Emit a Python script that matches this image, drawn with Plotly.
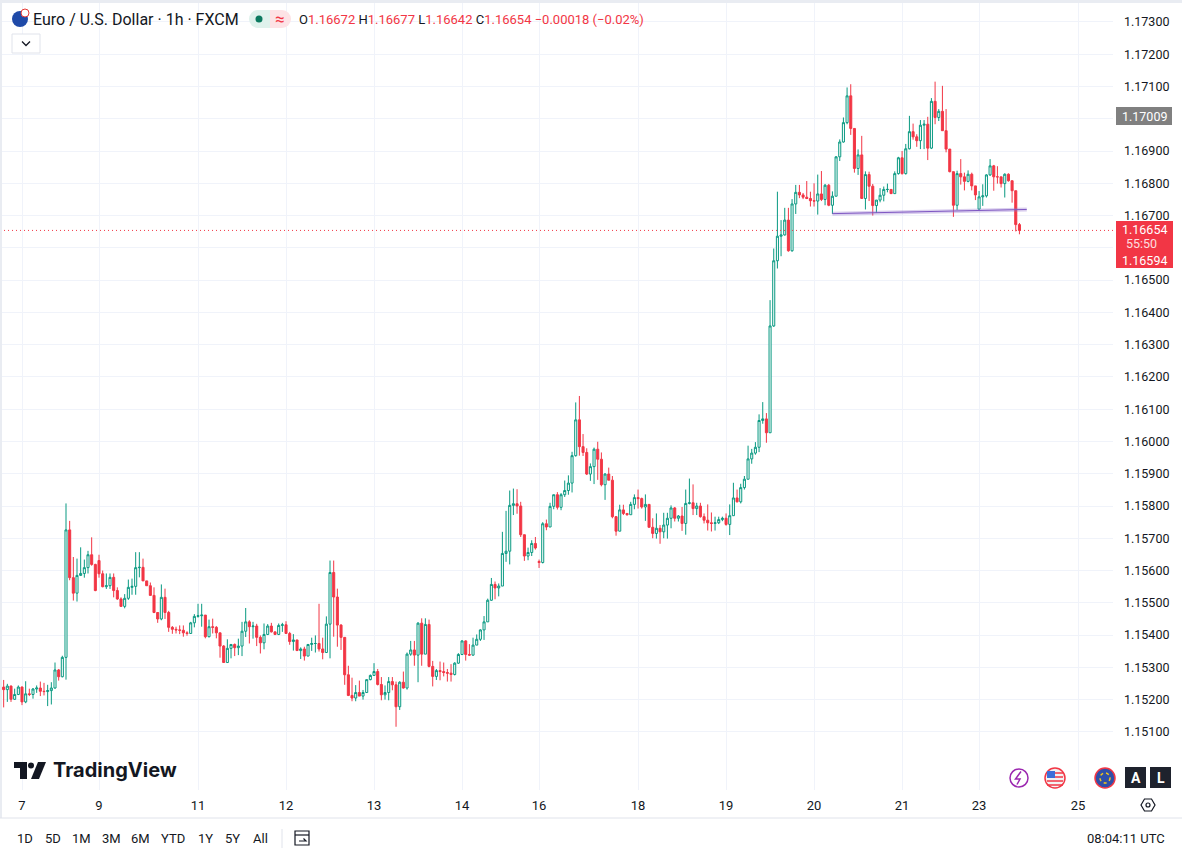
import pandas as pd
import plotly.graph_objects as go

# EUR/USD 1h candles (Thu 6 19:00 UTC -> Mon 24 08:00 UTC)
opens = [
    1.15239, 1.15231, 1.15242, 1.15201, 1.15216, 1.15239, 1.15193, 1.15218, 1.15216, 1.15233,
    1.15236, 1.15226, 1.15225, 1.15228, 1.15236, 1.15292, 1.15271, 1.15331, 1.15726, 1.15578,
    1.15530, 1.15585, 1.15591, 1.15609, 1.15649, 1.15619, 1.15631, 1.15590, 1.15550, 1.15553,
    1.15579, 1.15538, 1.15512, 1.15489, 1.15514, 1.15548, 1.15551, 1.15609, 1.15610, 1.15568,
    1.15553, 1.15523, 1.15470, 1.15450, 1.15517, 1.15470, 1.15424, 1.15418, 1.15416, 1.15415,
    1.15407, 1.15405, 1.15438, 1.15458, 1.15460, 1.15462, 1.15395, 1.15426, 1.15424, 1.15407,
    1.15366, 1.15315, 1.15359, 1.15371, 1.15361, 1.15366, 1.15412, 1.15441, 1.15426, 1.15428,
    1.15393, 1.15376, 1.15402, 1.15428, 1.15410, 1.15402, 1.15430, 1.15432, 1.15405, 1.15380,
    1.15385, 1.15352, 1.15357, 1.15335, 1.15371, 1.15374, 1.15374, 1.15357, 1.15346, 1.15434,
    1.15594, 1.15518, 1.15431, 1.15393, 1.15277, 1.15213, 1.15205, 1.15222, 1.15211, 1.15222,
    1.15262, 1.15275, 1.15287, 1.15247, 1.15215, 1.15222, 1.15256, 1.15246, 1.15178, 1.15254,
    1.15236, 1.15341, 1.15354, 1.15338, 1.15437, 1.15341, 1.15433, 1.15303, 1.15272, 1.15290,
    1.15287, 1.15284, 1.15282, 1.15278, 1.15313, 1.15340, 1.15382, 1.15340, 1.15338, 1.15369,
    1.15387, 1.15416, 1.15441, 1.15508, 1.15557, 1.15546, 1.15552, 1.15653, 1.15660, 1.15802,
    1.15807, 1.15800, 1.15711, 1.15645, 1.15656, 1.15684, 1.15628, 1.15625, 1.15745, 1.15735,
    1.15799, 1.15835, 1.15796, 1.15835, 1.15848, 1.15871, 1.15956, 1.16067, 1.15984, 1.15966,
    1.15899, 1.15922, 1.15976, 1.15945, 1.15866, 1.15899, 1.15880, 1.15767, 1.15722, 1.15788,
    1.15777, 1.15773, 1.15805, 1.15826, 1.15823, 1.15797, 1.15805, 1.15734, 1.15715, 1.15731,
    1.15720, 1.15741, 1.15762, 1.15794, 1.15762, 1.15769, 1.15746, 1.15808, 1.15810, 1.15792,
    1.15800, 1.15767, 1.15756, 1.15748, 1.15746, 1.15748, 1.15758, 1.15762, 1.15743, 1.15770,
    1.15825, 1.15813, 1.15857, 1.15883, 1.15946, 1.15964, 1.15982, 1.16065, 1.16070, 1.16027,
    1.16358, 1.16560, 1.16636, 1.16640, 1.16686, 1.16591, 1.16736, 1.16772, 1.16764, 1.16757,
    1.16753, 1.16746, 1.16745, 1.16767, 1.16750, 1.16794, 1.16732, 1.16760, 1.16882, 1.16928,
    1.16988, 1.17071, 1.16970, 1.16846, 1.16888, 1.16753, 1.16827, 1.16791, 1.16731, 1.16748,
    1.16763, 1.16781, 1.16781, 1.16768, 1.16830, 1.16879, 1.16830, 1.16907, 1.16960, 1.16944,
    1.16932, 1.16980, 1.16983, 1.16909, 1.17054, 1.17004, 1.17023, 1.16963, 1.16906, 1.16836,
    1.16732, 1.16830, 1.16820, 1.16806, 1.16828, 1.16792, 1.16720, 1.16758, 1.16761, 1.16826,
    1.16854, 1.16820, 1.16820, 1.16799, 1.16828, 1.16808, 1.16777, 1.16672,
]
highs = [
    1.15261, 1.15249, 1.15244, 1.15234, 1.15244, 1.15241, 1.15257, 1.15234, 1.15236, 1.15244,
    1.15256, 1.15252, 1.15246, 1.15254, 1.15315, 1.15295, 1.15336, 1.15808, 1.15754, 1.15642,
    1.15637, 1.15672, 1.15634, 1.15661, 1.15703, 1.15621, 1.15649, 1.15600, 1.15591, 1.15591,
    1.15591, 1.15548, 1.15517, 1.15527, 1.15572, 1.15575, 1.15657, 1.15657, 1.15637, 1.15568,
    1.15563, 1.15548, 1.15470, 1.15557, 1.15544, 1.15475, 1.15428, 1.15426, 1.15430, 1.15430,
    1.15412, 1.15441, 1.15465, 1.15497, 1.15497, 1.15462, 1.15448, 1.15451, 1.15428, 1.15407,
    1.15369, 1.15387, 1.15371, 1.15374, 1.15389, 1.15441, 1.15484, 1.15446, 1.15441, 1.15435,
    1.15399, 1.15436, 1.15434, 1.15438, 1.15410, 1.15436, 1.15438, 1.15443, 1.15410, 1.15403,
    1.15385, 1.15362, 1.15364, 1.15372, 1.15392, 1.15399, 1.15497, 1.15392, 1.15458, 1.15631,
    1.15631, 1.15544, 1.15434, 1.15393, 1.15305, 1.15268, 1.15245, 1.15259, 1.15230, 1.15262,
    1.15278, 1.15313, 1.15295, 1.15270, 1.15244, 1.15270, 1.15270, 1.15256, 1.15257, 1.15287,
    1.15346, 1.15382, 1.15382, 1.15440, 1.15452, 1.15452, 1.15448, 1.15320, 1.15295, 1.15318,
    1.15315, 1.15295, 1.15310, 1.15316, 1.15344, 1.15384, 1.15384, 1.15372, 1.15392, 1.15402,
    1.15418, 1.15459, 1.15513, 1.15577, 1.15566, 1.15560, 1.15720, 1.15785, 1.15848, 1.15854,
    1.15852, 1.15813, 1.15711, 1.15671, 1.15694, 1.15704, 1.15634, 1.15750, 1.15758, 1.15810,
    1.15835, 1.15843, 1.15840, 1.15879, 1.15895, 1.15968, 1.16121, 1.16141, 1.16023, 1.15979,
    1.15932, 1.15981, 1.15999, 1.15966, 1.15902, 1.15919, 1.15893, 1.15769, 1.15804, 1.15804,
    1.15777, 1.15813, 1.15836, 1.15851, 1.15826, 1.15836, 1.15805, 1.15762, 1.15777, 1.15741,
    1.15779, 1.15779, 1.15802, 1.15797, 1.15772, 1.15797, 1.15851, 1.15885, 1.15867, 1.15810,
    1.15810, 1.15777, 1.15805, 1.15780, 1.15767, 1.15767, 1.15767, 1.15777, 1.15805, 1.15872,
    1.15851, 1.15869, 1.15893, 1.15987, 1.15977, 1.15998, 1.16084, 1.16122, 1.16088, 1.16438,
    1.16598, 1.16774, 1.16686, 1.16724, 1.16724, 1.16751, 1.16795, 1.16795, 1.16770, 1.16807,
    1.16774, 1.16800, 1.16827, 1.16838, 1.16798, 1.16798, 1.16775, 1.16884, 1.16936, 1.17004,
    1.17097, 1.17107, 1.16970, 1.16905, 1.16947, 1.16837, 1.16836, 1.16798, 1.16748, 1.16785,
    1.16790, 1.16799, 1.16781, 1.16837, 1.16882, 1.16900, 1.16922, 1.17009, 1.16985, 1.16952,
    1.16996, 1.16996, 1.17006, 1.17064, 1.17115, 1.17030, 1.17102, 1.17030, 1.16906, 1.16836,
    1.16839, 1.16875, 1.16833, 1.16840, 1.16833, 1.16792, 1.16776, 1.16797, 1.16828, 1.16875,
    1.16857, 1.16853, 1.16820, 1.16831, 1.16831, 1.16808, 1.16777, 1.16677,
]
lows = [
    1.15176, 1.15193, 1.15193, 1.15199, 1.15214, 1.15183, 1.15189, 1.15211, 1.15203, 1.15221,
    1.15211, 1.15213, 1.15180, 1.15185, 1.15234, 1.15259, 1.15269, 1.15262, 1.15570, 1.15507,
    1.15504, 1.15583, 1.15578, 1.15591, 1.15615, 1.15536, 1.15578, 1.15548, 1.15543, 1.15543,
    1.15517, 1.15509, 1.15489, 1.15483, 1.15509, 1.15525, 1.15525, 1.15579, 1.15568, 1.15553,
    1.15523, 1.15468, 1.15438, 1.15446, 1.15450, 1.15410, 1.15404, 1.15405, 1.15403, 1.15395,
    1.15398, 1.15405, 1.15424, 1.15454, 1.15426, 1.15390, 1.15393, 1.15405, 1.15390, 1.15330,
    1.15315, 1.15315, 1.15328, 1.15335, 1.15338, 1.15335, 1.15394, 1.15374, 1.15389, 1.15366,
    1.15343, 1.15356, 1.15400, 1.15408, 1.15400, 1.15400, 1.15410, 1.15405, 1.15370, 1.15352,
    1.15352, 1.15326, 1.15321, 1.15335, 1.15351, 1.15346, 1.15349, 1.15325, 1.15346, 1.15328,
    1.15395, 1.15364, 1.15354, 1.15246, 1.15211, 1.15195, 1.15195, 1.15211, 1.15200, 1.15222,
    1.15260, 1.15275, 1.15244, 1.15198, 1.15200, 1.15198, 1.15229, 1.15116, 1.15168, 1.15234,
    1.15231, 1.15336, 1.15305, 1.15254, 1.15305, 1.15341, 1.15300, 1.15241, 1.15261, 1.15260,
    1.15272, 1.15256, 1.15256, 1.15275, 1.15311, 1.15338, 1.15321, 1.15336, 1.15336, 1.15369,
    1.15382, 1.15385, 1.15441, 1.15506, 1.15511, 1.15520, 1.15552, 1.15627, 1.15619, 1.15772,
    1.15776, 1.15704, 1.15630, 1.15632, 1.15645, 1.15665, 1.15608, 1.15622, 1.15725, 1.15735,
    1.15790, 1.15789, 1.15787, 1.15828, 1.15835, 1.15842, 1.15953, 1.15956, 1.15955, 1.15896,
    1.15878, 1.15868, 1.15881, 1.15861, 1.15819, 1.15880, 1.15762, 1.15708, 1.15722, 1.15772,
    1.15770, 1.15773, 1.15790, 1.15792, 1.15792, 1.15754, 1.15734, 1.15700, 1.15699, 1.15683,
    1.15700, 1.15699, 1.15731, 1.15752, 1.15752, 1.15723, 1.15711, 1.15805, 1.15772, 1.15772,
    1.15764, 1.15746, 1.15724, 1.15721, 1.15724, 1.15744, 1.15753, 1.15739, 1.15710, 1.15770,
    1.15811, 1.15808, 1.15851, 1.15883, 1.15931, 1.15959, 1.15967, 1.16055, 1.15996, 1.16027,
    1.16355, 1.16536, 1.16574, 1.16638, 1.16588, 1.16588, 1.16705, 1.16754, 1.16751, 1.16751,
    1.16728, 1.16728, 1.16703, 1.16745, 1.16732, 1.16729, 1.16705, 1.16760, 1.16869, 1.16926,
    1.16983, 1.16950, 1.16833, 1.16826, 1.16753, 1.16719, 1.16745, 1.16700, 1.16708, 1.16741,
    1.16744, 1.16772, 1.16767, 1.16768, 1.16827, 1.16827, 1.16827, 1.16905, 1.16935, 1.16913,
    1.16906, 1.16906, 1.16872, 1.16906, 1.16983, 1.16993, 1.16963, 1.16896, 1.16834, 1.16696,
    1.16717, 1.16796, 1.16778, 1.16803, 1.16778, 1.16748, 1.16718, 1.16730, 1.16756, 1.16823,
    1.16777, 1.16799, 1.16787, 1.16756, 1.16805, 1.16740, 1.16651, 1.16642,
]
closes = [
    1.15231, 1.15242, 1.15201, 1.15216, 1.15239, 1.15193, 1.15218, 1.15216, 1.15233, 1.15236,
    1.15226, 1.15225, 1.15228, 1.15236, 1.15292, 1.15271, 1.15331, 1.15726, 1.15578, 1.15530,
    1.15585, 1.15591, 1.15609, 1.15649, 1.15619, 1.15538, 1.15590, 1.15550, 1.15553, 1.15579,
    1.15538, 1.15512, 1.15489, 1.15514, 1.15548, 1.15551, 1.15609, 1.15610, 1.15568, 1.15553,
    1.15523, 1.15470, 1.15450, 1.15517, 1.15470, 1.15424, 1.15418, 1.15416, 1.15415, 1.15407,
    1.15405, 1.15438, 1.15458, 1.15460, 1.15462, 1.15395, 1.15426, 1.15424, 1.15407, 1.15366,
    1.15315, 1.15359, 1.15371, 1.15361, 1.15366, 1.15412, 1.15441, 1.15426, 1.15428, 1.15393,
    1.15376, 1.15402, 1.15428, 1.15410, 1.15402, 1.15430, 1.15432, 1.15405, 1.15380, 1.15385,
    1.15352, 1.15357, 1.15335, 1.15371, 1.15374, 1.15374, 1.15357, 1.15346, 1.15434, 1.15594,
    1.15518, 1.15431, 1.15393, 1.15277, 1.15213, 1.15205, 1.15222, 1.15211, 1.15222, 1.15262,
    1.15275, 1.15287, 1.15247, 1.15215, 1.15222, 1.15256, 1.15246, 1.15178, 1.15254, 1.15236,
    1.15341, 1.15354, 1.15338, 1.15437, 1.15341, 1.15433, 1.15303, 1.15272, 1.15290, 1.15287,
    1.15284, 1.15282, 1.15278, 1.15313, 1.15340, 1.15382, 1.15340, 1.15338, 1.15369, 1.15387,
    1.15416, 1.15441, 1.15508, 1.15557, 1.15546, 1.15552, 1.15653, 1.15660, 1.15802, 1.15807,
    1.15800, 1.15711, 1.15645, 1.15656, 1.15684, 1.15670, 1.15625, 1.15745, 1.15735, 1.15799,
    1.15835, 1.15796, 1.15835, 1.15848, 1.15871, 1.15956, 1.16067, 1.15984, 1.15966, 1.15899,
    1.15922, 1.15976, 1.15945, 1.15866, 1.15899, 1.15880, 1.15767, 1.15722, 1.15788, 1.15777,
    1.15773, 1.15805, 1.15826, 1.15823, 1.15797, 1.15805, 1.15734, 1.15715, 1.15731, 1.15720,
    1.15741, 1.15762, 1.15794, 1.15762, 1.15769, 1.15746, 1.15808, 1.15810, 1.15792, 1.15800,
    1.15767, 1.15756, 1.15748, 1.15746, 1.15748, 1.15758, 1.15762, 1.15743, 1.15770, 1.15825,
    1.15813, 1.15857, 1.15883, 1.15946, 1.15964, 1.15982, 1.16065, 1.16070, 1.16027, 1.16358,
    1.16560, 1.16636, 1.16640, 1.16686, 1.16591, 1.16736, 1.16772, 1.16764, 1.16757, 1.16753,
    1.16746, 1.16745, 1.16767, 1.16750, 1.16794, 1.16732, 1.16760, 1.16882, 1.16928, 1.16988,
    1.17071, 1.16970, 1.16846, 1.16888, 1.16753, 1.16827, 1.16791, 1.16731, 1.16748, 1.16763,
    1.16781, 1.16781, 1.16768, 1.16830, 1.16879, 1.16830, 1.16907, 1.16960, 1.16944, 1.16932,
    1.16980, 1.16983, 1.16909, 1.17054, 1.17004, 1.17023, 1.16963, 1.16906, 1.16836, 1.16732,
    1.16830, 1.16820, 1.16806, 1.16828, 1.16792, 1.16764, 1.16758, 1.16761, 1.16826, 1.16854,
    1.16820, 1.16820, 1.16799, 1.16828, 1.16808, 1.16777, 1.16672, 1.16654,
]

last_bar = "2025-11-24 08:00"
tick_times = ["2025-11-07 00:00", "2025-11-09 21:00", "2025-11-11 00:00", "2025-11-12 00:00",
              "2025-11-13 00:00", "2025-11-14 00:00", "2025-11-16 21:00", "2025-11-18 00:00",
              "2025-11-19 00:00", "2025-11-20 00:00", "2025-11-21 00:00", "2025-11-23 21:00",
              "2025-11-25 00:00"]
tick_text = ["7", "9", "11", "12", "13", "14", "16", "18", "19", "20", "21", "23", "25"]
price_ticks = [1.173, 1.172, 1.171, 1.170, 1.169, 1.168, 1.167, 1.166, 1.165, 1.164, 1.163, 1.162,
               1.161, 1.160, 1.159, 1.158, 1.157, 1.156, 1.155, 1.154, 1.153, 1.152, 1.151]
hidden_price_ticks = [1.170, 1.166]  # covered by the price-scale labels
trend_times = ["2025-11-20 05:00", "2025-11-24 10:00"]
trend_prices = [1.16706, 1.16719]
flag_price = 1.17009
bid_price = 1.16594

# forex trading hours (closed Fri 21:00 -> Sun 21:00 UTC), one slot per hour
hours = pd.date_range("2025-11-06 18:00", "2025-11-25 12:00", freq="h")
closed = ((hours.dayofweek == 4) & (hours.hour >= 21)) | (hours.dayofweek == 5) | \
         ((hours.dayofweek == 6) & (hours.hour < 21))
slots = hours[~closed]
bar_times = slots[slots <= pd.Timestamp(last_bar)][-len(closes):]
x_bars = slots.get_indexer(bar_times)
x_ticks = slots.get_indexer(pd.to_datetime(tick_times))
x_trend = slots.get_indexer(pd.to_datetime(trend_times))
price_text = ["" if p in hidden_price_ticks else f"{p:.5f}" for p in price_ticks]

GREEN = "#089981"
RED = "#F23645"
INK = "#131722"
GRID = "#f0f3fa"
PW, PH = 1113, 790  # plot area in pixels


def fx(px):
    return px / PW


def fy(py):
    return 1 - py / PH


fig = go.Figure()
fig.add_trace(go.Candlestick(
    x=x_bars, open=opens, high=highs, low=lows, close=closes,
    increasing=dict(line=dict(color=GREEN, width=1), fillcolor="#ffffff"),
    decreasing=dict(line=dict(color=RED, width=1), fillcolor=RED),
    whiskerwidth=0, hoverinfo="skip",
))
fig.add_trace(go.Scatter(x=x_trend, y=trend_prices, mode="lines",
                         line=dict(color="rgba(149,117,205,0.35)", width=4), hoverinfo="skip"))
fig.add_trace(go.Scatter(x=x_trend, y=trend_prices, mode="lines",
                         line=dict(color="#7e57c2", width=1), hoverinfo="skip"))

shapes = []
annotations = []


def rect(x0, y0, x1, y1, fill, line=None, lw=0):
    shapes.append(dict(type="rect", xref="paper", yref="paper", x0=fx(x0), x1=fx(x1),
                       y0=fy(y1), y1=fy(y0), fillcolor=fill, layer="above",
                       line=dict(color=line or fill, width=lw)))


def circle(cx, cy, r, fill, line=None, lw=0, dash="solid"):
    shapes.append(dict(type="circle", xref="paper", yref="paper", x0=fx(cx - r), x1=fx(cx + r),
                       y0=fy(cy + r), y1=fy(cy - r), fillcolor=fill, layer="above",
                       line=dict(color=line or fill, width=lw, dash=dash)))


def poly(points, fill=None, line=None, lw=1, close=True):
    d = "M " + " L ".join(f"{fx(a):.5f},{fy(b):.5f}" for a, b in points) + (" Z" if close else "")
    shapes.append(dict(type="path", xref="paper", yref="paper", path=d, layer="above",
                       fillcolor=fill or "rgba(0,0,0,0)", line=dict(color=line or "rgba(0,0,0,0)", width=lw)))


def text(px, py, s, size=13, color=INK, anchor="left", family="Roboto, sans-serif"):
    annotations.append(dict(xref="paper", yref="paper", x=fx(px), y=fy(py), text=s,
                            showarrow=False, xanchor=anchor, yanchor="middle",
                            font=dict(size=size, color=color, family=family)))


# current price dotted line
shapes.append(dict(type="line", xref="paper", yref="y", x0=0, x1=1, y0=closes[-1], y1=closes[-1],
                   line=dict(color=RED, width=1, dash="1px,3px")))

# frame edges
rect(0, 0, 1182, 3, "#e9ecf2")
rect(0, 0, 2, 818, "#e9ecf2")
shapes.append(dict(type="line", xref="paper", yref="paper", x0=0, x1=fx(1182), y0=fy(818), y1=fy(818),
                   line=dict(color="#e0e3eb", width=1)))

# price axis labels
rect(1116, 107, 1172, 125, "#808080")
text(1144, 116, f"{flag_price:.5f}", 12.5, "white", "center")
rect(1116, 221, 1173, 268, RED)
text(1144, 229, f"{closes[-1]:.5f}", 12.5, "white", "center")
text(1141, 244, "55:50", 12.5, "rgba(255,255,255,0.85)", "center")
text(1144, 260, f"{bid_price:.5f}", 12.5, "white", "center")

# legend header
circle(20, 19, 8, "#1f4aa8")
circle(25, 13, 4, "#ffffff", "#e53935", 1)
text(31, 19, "Euro / U.S. Dollar · 1h · FXCM", 16)
circle(258, 19, 9, "#dff2ec")
rect(258, 10, 270, 28, "#dff2ec")
rect(270, 10, 282, 28, "#fde3e6")
circle(282, 19, 9, "#fde3e6")
circle(259, 19, 3.5, "#0b7a5f")
text(280, 19, "≈", 17, RED, "center")
vals = f"O<span style='color:{RED}'>{opens[-1]:.5f}</span> H<span style='color:{RED}'>{highs[-1]:.5f}</span> " \
       f"L<span style='color:{RED}'>{lows[-1]:.5f}</span> C<span style='color:{RED}'>{closes[-1]:.5f}</span> " \
       f"<span style='color:{RED}'>−{opens[-1] - closes[-1]:.5f} (−0.02%)</span>"
text(297, 19, vals, 13)
rect(12, 34, 40, 53, "#ffffff", "#e0e3eb", 1)
poly([(22, 41.5), (26, 45.5), (30, 41.5)], line=INK, lw=1.3, close=False)

# TradingView watermark
rect(14, 762, 27, 768, INK)
rect(20, 762, 27, 779, INK)
circle(31, 765.5, 3, INK)
poly([(38, 762), (46, 762), (39, 779), (31, 779)], fill=INK)
text(51, 770, "<b>TradingView</b>", 20, INK, "left", "Inter, Roboto, sans-serif")

# bottom right badges
circle(1019, 778, 9, "#ffffff", "#9c27b0", 1.5)
poly([(1021, 771.5), (1015.5, 779), (1020, 779), (1017, 784.5)], line="#9c27b0", lw=1.5, close=False)
circle(1055, 778, 10, "#f2f2f2", RED, 1.5)
rect(1047, 771, 1055, 778, "#3c6ed8")
for yy in (773, 777, 781, 785):
    shapes.append(dict(type="line", xref="paper", yref="paper", x0=fx(1055 if yy < 778 else 1047),
                       x1=fx(1063), y0=fy(yy), y1=fy(yy), line=dict(color=RED, width=1.5)))
circle(1105, 778, 10, "#2f4fa8", RED, 1.5)
circle(1105, 778, 5, "rgba(0,0,0,0)", "#f5c518", 1.5, "dot")
rect(1125, 767, 1146, 788, "#1e222d")
text(1135.5, 777.5, "<b>A</b>", 14, "white", "center")
rect(1150, 767, 1171, 788, "#1e222d")
text(1160.5, 777.5, "<b>L</b>", 14, "white", "center")
poly([(1141, 805), (1144.5, 799), (1151.5, 799), (1155, 805), (1151.5, 811), (1144.5, 811)], line=INK, lw=1.2)
circle(1148, 805, 2, "rgba(0,0,0,0)", INK, 1.2)

# bottom toolbar
for lab, px in zip(["1D", "5D", "1M", "3M", "6M", "YTD", "1Y", "5Y", "All"],
                   [25, 53, 82, 111, 140, 173, 205, 232, 260]):
    text(px, 838, lab, 13, INK, "center")
shapes.append(dict(type="line", xref="paper", yref="paper", x0=fx(282), x1=fx(282), y0=fy(829), y1=fy(848),
                   line=dict(color="#e0e3eb", width=1)))
rect(295, 831, 309, 845, "rgba(0,0,0,0)", INK, 1.2)
poly([(295, 835), (309, 835)], line=INK, lw=1.2, close=False)
poly([(299, 841), (306, 841), (303.5, 838.5)], line=INK, lw=1.2, close=False)
text(1167, 838, "08:04:11 UTC", 13, INK, "right")

fig.update_layout(
    width=1182, height=854,
    margin=dict(l=0, r=1182 - PW, t=0, b=854 - PH),
    plot_bgcolor="white", paper_bgcolor="white",
    showlegend=False, boxgap=0.2,
    font=dict(family="Roboto, sans-serif", color=INK, size=12),
    shapes=shapes, annotations=annotations,
    xaxis=dict(range=[0, PW / 3.667], tickmode="array", tickvals=x_ticks, ticktext=tick_text,
               showgrid=True, gridcolor=GRID, zeroline=False, showline=False, ticks="",
               tickfont=dict(size=13), ticklabelstandoff=6, rangeslider=dict(visible=False)),
    yaxis=dict(side="right", range=[1.14920, 1.17368], tickmode="array", tickvals=price_ticks,
               ticktext=price_text, showgrid=True, gridcolor=GRID, zeroline=False, showline=False,
               ticks="", ticklabelstandoff=10, tickfont=dict(size=12.5)),
)

fig.write_html("out.html", config={"displayModeBar": False},
               post_script="document.body.style.margin='0';document.body.style.overflow='hidden';")
